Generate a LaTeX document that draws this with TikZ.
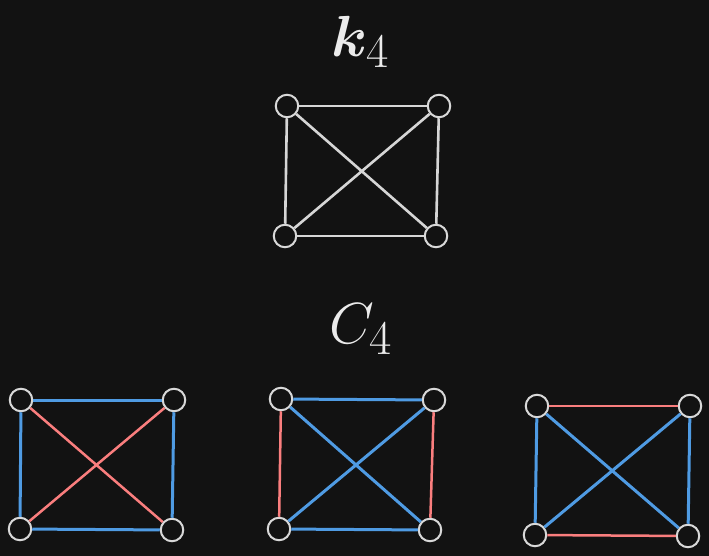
\documentclass[tikz,border=0pt]{standalone}
\usepackage{amsmath,bm}
\definecolor{bg}{HTML}{121212}
\definecolor{vtx}{HTML}{D8D8D8}
\definecolor{edg}{HTML}{D6D6D6}
\definecolor{eblue}{HTML}{4F9BE3}
\definecolor{ered}{HTML}{FA7E7E}
\begin{document}
\begin{tikzpicture}[x=1pt,y=-1pt,
  vertex/.style={circle,draw=vtx,line width=2pt,fill=bg,minimum size=22.5pt,inner sep=0pt},
  gedge/.style={draw=edg,line width=2.6pt},
  bedge/.style={draw=eblue,line width=3pt},
  redge/.style={draw=ered,line width=2.5pt},
  title/.style={text=white!92!black,font=\Huge,scale=2.33,inner sep=0pt}]
\fill[bg] (0,0) rectangle (709,556);
\useasboundingbox (0,0) rectangle (709,556);
% titles
\node[title] (tk) at (361,42) {$\bm{k}_4$};
\node[title] (tc) at (361,329) {$C_4$};
% K4
\node[vertex] (a1) at (287,106) {};
\node[vertex] (a2) at (439,106) {};
\node[vertex] (a3) at (285,236) {};
\node[vertex] (a4) at (436,236) {};
% G1
\node[vertex] (b1) at (21,400) {};
\node[vertex] (b2) at (174,400) {};
\node[vertex] (b3) at (20,529) {};
\node[vertex] (b4) at (172,530) {};
% G2
\node[vertex] (c1) at (281,399) {};
\node[vertex] (c2) at (434,400) {};
\node[vertex] (c3) at (279,529) {};
\node[vertex] (c4) at (430,530) {};
% G3
\node[vertex] (d1) at (537,406) {};
\node[vertex] (d2) at (690,406) {};
\node[vertex] (d3) at (535,535) {};
\node[vertex] (d4) at (688,536) {};
% edges K4
\draw[gedge] (a1) -- (a2);
\draw[gedge] (a3) -- (a4);
\draw[gedge] (a1) -- (a3);
\draw[gedge] (a2) -- (a4);
\draw[gedge] (a1) -- (a4);
\draw[gedge] (a2) -- (a3);
% edges G1
\draw[bedge] (b1) -- (b2);
\draw[bedge] (b3) -- (b4);
\draw[bedge] (b1) -- (b3);
\draw[bedge] (b2) -- (b4);
\draw[redge] (b1) -- (b4);
\draw[redge] (b2) -- (b3);
% edges G2
\draw[bedge] (c1) -- (c2);
\draw[bedge] (c3) -- (c4);
\draw[redge] (c1) -- (c3);
\draw[redge] (c2) -- (c4);
\draw[bedge] (c1) -- (c4);
\draw[bedge] (c2) -- (c3);
% edges G3
\draw[redge] (d1) -- (d2);
\draw[redge] (d3) -- (d4);
\draw[bedge] (d1) -- (d3);
\draw[bedge] (d2) -- (d4);
\draw[bedge] (d1) -- (d4);
\draw[bedge] (d2) -- (d3);
\end{tikzpicture}
\end{document}
